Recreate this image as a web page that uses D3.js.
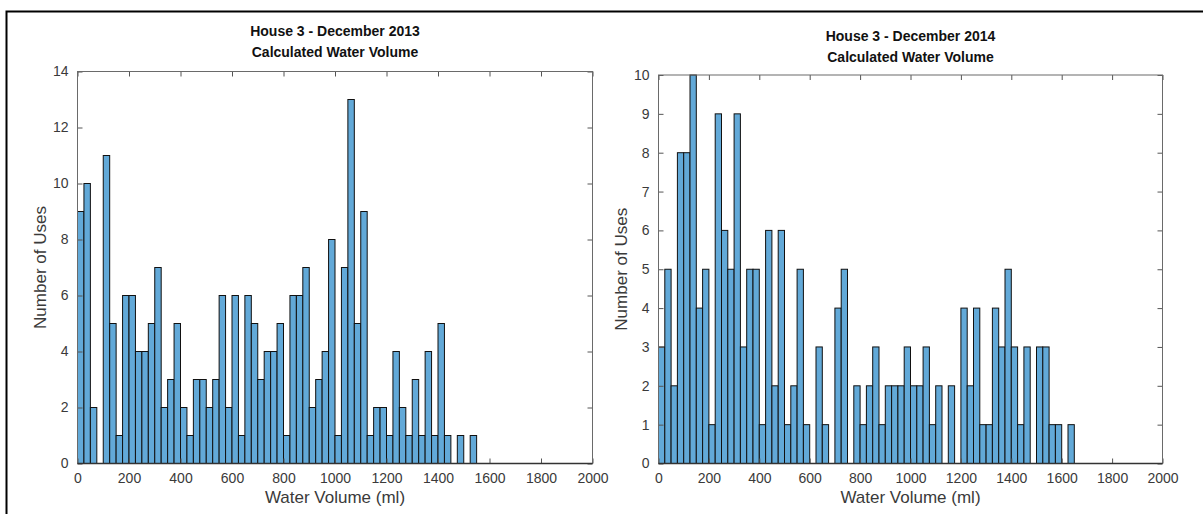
<!DOCTYPE html>
<html>
<head>
<meta charset="utf-8">
<script src="https://cdnjs.cloudflare.com/ajax/libs/d3/7.8.5/d3.min.js"></script>
<style>
    html, body{
        margin:0px;
        padding:0px;
        background:#fff;
    }
    svg text{
        font-family: "Liberation Sans", Arial, Helvetica, sans-serif;
    }
</style>
</head>
<body>
<div id="vis"></div>
<script>

    // histogram bins, 25 ml wide, 0 - 2000 ml
    var binWidth = 25;
    var binStarts = d3.range(0, 2000, binWidth);

    var counts2013 = [9,10,2,0,11,5,1,6,6,4,4,5,7,2,3,5,2,1,3,3,
                      2,3,6,2,6,1,6,5,3,4,4,5,1,6,6,7,2,3,4,8,
                      1,7,13,5,9,1,2,2,1,4,2,1,3,1,4,1,5,1,0,1,
                      0,1,0,0,0,0,0,0,0,0,0,0,0,0,0,0,0,0,0,0];

    var counts2014 = [3,5,2,8,8,10,4,5,1,9,6,5,9,3,5,5,1,6,2,6,
                      1,2,5,1,0,3,1,0,4,5,0,2,1,2,3,1,2,2,2,3,
                      2,2,3,1,2,0,2,0,4,2,4,1,1,4,3,5,3,1,3,0,
                      3,3,1,1,0,1,0,0,0,0,0,0,0,0,0,0,0,0,0,0];

    var xTicks = [0,200,400,600,800,1000,1200,1400,1600,1800,2000];
    var yTicks2013 = [0,2,4,6,8,10,12,14];
    var yTicks2014 = [0,1,2,3,4,5,6,7,8,9,10];

    var W = 1203, H = 514;

    var svg = d3.select("#vis").append("svg")
        .attr("width", W)
        .attr("height", H);

    // outer frame (cut off right and bottom)
    svg.append("path")
        .attr("d", "M6.5," + H + "V11.5H" + W)
        .attr("fill", "none")
        .attr("stroke", "#000")
        .attr("stroke-width", 2);

    function drawHist(cfg){
        var x = d3.scaleLinear().domain([0, 2000]).range([cfg.left, cfg.right]);
        var y = d3.scaleLinear().domain([0, cfg.ymax]).range([cfg.bottom, cfg.top]);
        var g = svg.append("g");
        var fmt = d3.format("d");

        var tl = 5;
        // ticks on all four sides, pointing inside
        var xb = d3.axisBottom(x).tickValues(xTicks).tickFormat(fmt).tickSizeInner(-tl).tickSizeOuter(0).tickPadding(10);
        var xt = d3.axisTop(x).tickValues(xTicks).tickSizeInner(-tl).tickSizeOuter(0).tickFormat("");
        var yl = d3.axisLeft(y).tickValues(cfg.yTicks).tickFormat(fmt).tickSizeInner(-tl).tickSizeOuter(0).tickPadding(9);
        var yr = d3.axisRight(y).tickValues(cfg.yTicks).tickSizeInner(-tl).tickSizeOuter(0).tickFormat("");

        // bars
        g.selectAll("rect.bar")
            .data(cfg.counts)
            .enter().append("rect")
            .attr("class", "bar")
            .attr("x", function(d, i){ return x(binStarts[i]); })
            .attr("y", function(d){ return y(d); })
            .attr("width", function(d, i){ return x(binStarts[i] + binWidth) - x(binStarts[i]); })
            .attr("height", function(d){ return y(0) - y(d); })
            .attr("fill", "#62a9d8")
            .attr("stroke", "#111")
            .attr("stroke-width", 1);

        var axes = [
            g.append("g").attr("transform", "translate(0," + cfg.bottom + ")").call(xb),
            g.append("g").attr("transform", "translate(0," + cfg.top + ")").call(xt),
            g.append("g").attr("transform", "translate(" + cfg.left + ",0)").call(yl),
            g.append("g").attr("transform", "translate(" + cfg.right + ",0)").call(yr)
        ];
        axes.forEach(function(a){
            a.select(".domain").remove();
            a.selectAll("line").attr("stroke", "#555");
            a.selectAll("text").attr("fill", "#3a3a3a").style("font-size", "14px");
        });

        // axis box
        g.append("rect")
            .attr("x", cfg.left).attr("y", cfg.top)
            .attr("width", cfg.right - cfg.left).attr("height", cfg.bottom - cfg.top)
            .attr("fill", "none").attr("stroke", "#6a6a6a").attr("stroke-width", 1);

        // the zero-height bars leave a dark baseline
        g.append("line")
            .attr("x1", cfg.left).attr("x2", cfg.right)
            .attr("y1", cfg.bottom).attr("y2", cfg.bottom)
            .attr("stroke", "#333").attr("stroke-width", 1.3);

        var cx = (cfg.left + cfg.right) / 2;
        g.append("text")
            .attr("x", cx).attr("y", cfg.titleY)
            .attr("text-anchor", "middle")
            .style("font-size", "14px").style("font-weight", "bold")
            .attr("fill", "#111")
            .text(cfg.title);
        g.append("text")
            .attr("x", cx).attr("y", cfg.titleY + 21)
            .attr("text-anchor", "middle")
            .style("font-size", "14px").style("font-weight", "bold")
            .attr("fill", "#111")
            .text("Calculated Water Volume");

        g.append("text")
            .attr("x", cx).attr("y", 503)
            .attr("text-anchor", "middle")
            .style("font-size", "17px")
            .attr("fill", "#3a3a3a")
            .text("Water Volume (ml)");

        g.append("text")
            .attr("transform", "translate(" + cfg.ylabelX + "," + ((cfg.top + cfg.bottom) / 2) + ") rotate(-90)")
            .attr("text-anchor", "middle")
            .style("font-size", "17px")
            .attr("fill", "#3a3a3a")
            .text("Number of Uses");
    }

    drawHist({
        counts: counts2013, ymax: 14, yTicks: yTicks2013,
        left: 77.5, right: 592.5, top: 71.5, bottom: 463.5,
        title: "House 3 - December 2013", titleY: 36, ylabelX: 46
    });

    drawHist({
        counts: counts2014, ymax: 10, yTicks: yTicks2014,
        left: 658.5, right: 1162.5, top: 75, bottom: 463.5,
        title: "House 3 - December 2014", titleY: 41, ylabelX: 627
    });

</script>
</body>
</html>
